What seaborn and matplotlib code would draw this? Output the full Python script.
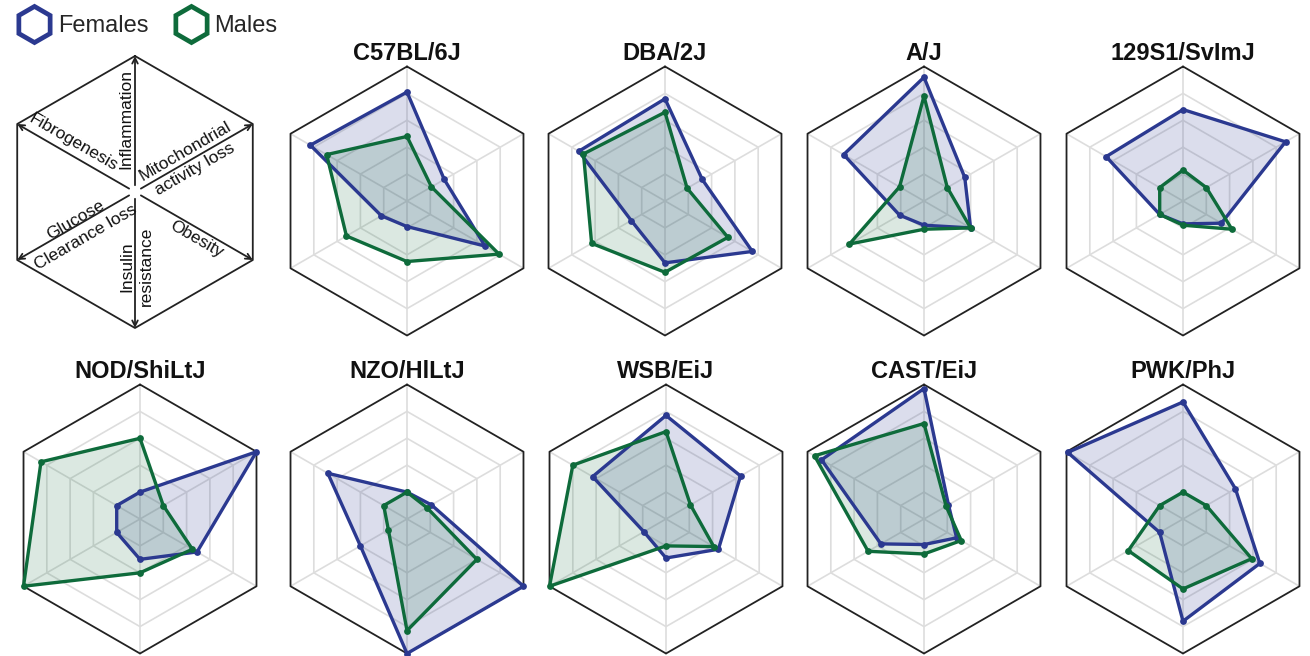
import numpy as np
import pandas as pd
import matplotlib
matplotlib.use("Agg")
import matplotlib.pyplot as plt
from matplotlib.lines import Line2D
import seaborn as sns

# ---------------- data ----------------
axes_names = ["Inflammation", "Mitochondrial activity loss", "Obesity",
              "Insulin resistance", "Glucose clearance loss", "Fibrogenesis"]
strains = ["C57BL/6J", "DBA/2J", "A/J", "129S1/SvImJ",
           "NOD/ShiLtJ", "NZO/HlLtJ", "WSB/EiJ", "CAST/EiJ", "PWK/PhJ"]
# values on 0..1 scale, order = axes_names
females = {
    "C57BL/6J":    [0.81, 0.32, 0.67, 0.19, 0.22, 0.83],
    "DBA/2J":      [0.76, 0.32, 0.75, 0.46, 0.29, 0.74],
    "A/J":         [0.92, 0.35, 0.40, 0.18, 0.21, 0.69],
    "129S1/SvImJ": [0.68, 0.88, 0.33, 0.17, 0.20, 0.66],
    "NOD/ShiLtJ":  [0.20, 1.00, 0.49, 0.30, 0.20, 0.20],
    "NZO/HlLtJ":   [0.20, 0.21, 1.00, 1.00, 0.40, 0.68],
    "WSB/EiJ":     [0.77, 0.64, 0.45, 0.29, 0.19, 0.63],
    "CAST/EiJ":    [0.97, 0.21, 0.28, 0.19, 0.37, 0.88],
    "PWK/PhJ":     [0.87, 0.45, 0.66, 0.76, 0.20, 0.99],
}
males = {
    "C57BL/6J":    [0.48, 0.21, 0.79, 0.45, 0.52, 0.69],
    "DBA/2J":      [0.66, 0.19, 0.54, 0.53, 0.63, 0.70],
    "A/J":         [0.78, 0.20, 0.40, 0.21, 0.64, 0.21],
    "129S1/SvImJ": [0.23, 0.20, 0.42, 0.18, 0.20, 0.20],
    "NOD/ShiLtJ":  [0.60, 0.20, 0.45, 0.40, 1.00, 0.85],
    "NZO/HlLtJ":   [0.20, 0.17, 0.60, 0.83, 0.16, 0.20],
    "WSB/EiJ":     [0.65, 0.21, 0.41, 0.20, 1.00, 0.80],
    "CAST/EiJ":    [0.71, 0.19, 0.32, 0.26, 0.48, 0.94],
    "PWK/PhJ":     [0.20, 0.20, 0.59, 0.52, 0.47, 0.20],
}
ring_levels = [0.2, 0.4, 0.6, 0.8]
key_labels = ["Inflammation", "Mitochondrial\nactivity loss", "Obesity",
              "Insulin\nresistance", "Glucose\nClearance loss", "Fibrogenesis"]
legend_labels = ["Females", "Males"]

# ---------------- style ----------------
sns.set_theme(style="white")
plt.rcParams["font.family"] = ["Liberation Sans", "DejaVu Sans"]

FEM = "#2B3990"
MAL = "#0E6B3B"
W, H = 1310, 656
fig = plt.figure(figsize=(W / 100, H / 100), dpi=100)

angles = np.deg2rad([90, 30, -30, -90, -150, 150])
R = 134.5          # radius of outer hexagon in px
S = 300            # axes box size in px
lim = S / 2 / R


def make_ax(cx, cy):
    ax = fig.add_axes([(cx - S / 2) / W, 1 - (cy + S / 2) / H, S / W, S / H])
    ax.set_xlim(-lim, lim)
    ax.set_ylim(-lim, lim)
    ax.set_aspect("equal")
    ax.axis("off")
    return ax


def hexagon(r):
    a = np.append(angles, angles[0])
    return r * np.cos(a), r * np.sin(a)


def grid(ax):
    for lv in ring_levels:
        x, y = hexagon(lv)
        ax.plot(x, y, color="#DDDDDD", lw=1.2, zorder=1, clip_on=False)
    for a in angles:
        ax.plot([0, np.cos(a)], [0, np.sin(a)], color="#DDDDDD", lw=1.2, zorder=1)
    x, y = hexagon(1.0)
    ax.plot(x, y, color="#222222", lw=1.3, zorder=2, clip_on=False)


def to_xy(vals):
    v = np.asarray(vals)
    x = v * np.cos(angles)
    y = v * np.sin(angles)
    return np.append(x, x[0]), np.append(y, y[0])


centers = {
    "C57BL/6J": (407, 201), "DBA/2J": (665, 201), "A/J": (924, 201),
    "129S1/SvImJ": (1183, 201),
    "NOD/ShiLtJ": (140, 519), "NZO/HlLtJ": (407, 519), "WSB/EiJ": (666, 519),
    "CAST/EiJ": (924, 519), "PWK/PhJ": (1183, 519),
}

for s in strains:
    cx, cy = centers[s]
    ax = make_ax(cx, cy)
    grid(ax)
    fx, fy = to_xy(females[s])
    mx, my = to_xy(males[s])
    ax.fill(fx, fy, color=FEM, alpha=0.17, lw=0, zorder=3)
    ax.fill(mx, my, color=MAL, alpha=0.15, lw=0, zorder=3)
    for xx, yy, c, z in [(fx, fy, FEM, 5), (mx, my, MAL, 6)]:
        df = pd.DataFrame({"x": xx, "y": yy})
        sns.lineplot(data=df, x="x", y="y", sort=False, estimator=None,
                     color=c, lw=2.4, ax=ax, zorder=z)
        sns.scatterplot(data=df.iloc[:-1], x="x", y="y", color=c, s=24,
                        edgecolor=c, linewidth=0, ax=ax, zorder=z + 0.5)
    for ln in ax.lines:
        ln.set_clip_on(False)
    for col in ax.collections:
        col.set_clip_on(False)
    ax.set_xlabel("")
    ax.set_ylabel("")
    ax.axis("off")
    ax.text(0, 1 + 6 / R, s, ha="center", va="baseline", fontsize=17,
            fontweight="bold", color="#111111")

# ---------------- key panel ----------------
Rk = 136
kax = fig.add_axes([(135 - S / 2) / W, 1 - (192 + S / 2) / H, S / W, S / H])
kax.set_xlim(-S / 2 / Rk, S / 2 / Rk)
kax.set_ylim(-S / 2 / Rk, S / 2 / Rk)
kax.set_aspect("equal")
kax.axis("off")
x, y = hexagon(1.0)
kax.plot(x, y, color="#222222", lw=1.3)
for a in angles:
    kax.annotate("", xy=(np.cos(a), np.sin(a)),
                 xytext=(0.05 * np.cos(a), 0.05 * np.sin(a)),
                 arrowprops=dict(arrowstyle="->", color="#222222", lw=1.3,
                                 shrinkA=0, shrinkB=0, mutation_scale=10))
key_pos = [(-0.07, 0.54, 90), (0.405, 0.235, 30), (0.45, -0.345, -30),
           (0.012, -0.55, 90), (-0.40, -0.27, 30), (-0.45, 0.365, -30)]
for lab, (tx, ty, rot) in zip(key_labels, key_pos):
    kax.text(tx, ty, lab, rotation=rot, ha="center", va="center",
             rotation_mode="anchor", fontsize=12.5, color="#111111",
             linespacing=1.45, multialignment="center")

# ---------------- legend ----------------
handles = [Line2D([], [], marker="h", ls="none", markersize=26,
                  markerfacecolor="white", markeredgecolor=c, markeredgewidth=3.4)
           for c in (FEM, MAL)]
fig.legend(handles, legend_labels, loc="center left",
           bbox_to_anchor=(20 / W, 1 - 26 / H), ncol=2, frameon=False,
           fontsize=17, handletextpad=0.4, columnspacing=1.2,
           handlelength=1.2, borderaxespad=0, borderpad=0)

fig.savefig("out.png", dpi=100)
